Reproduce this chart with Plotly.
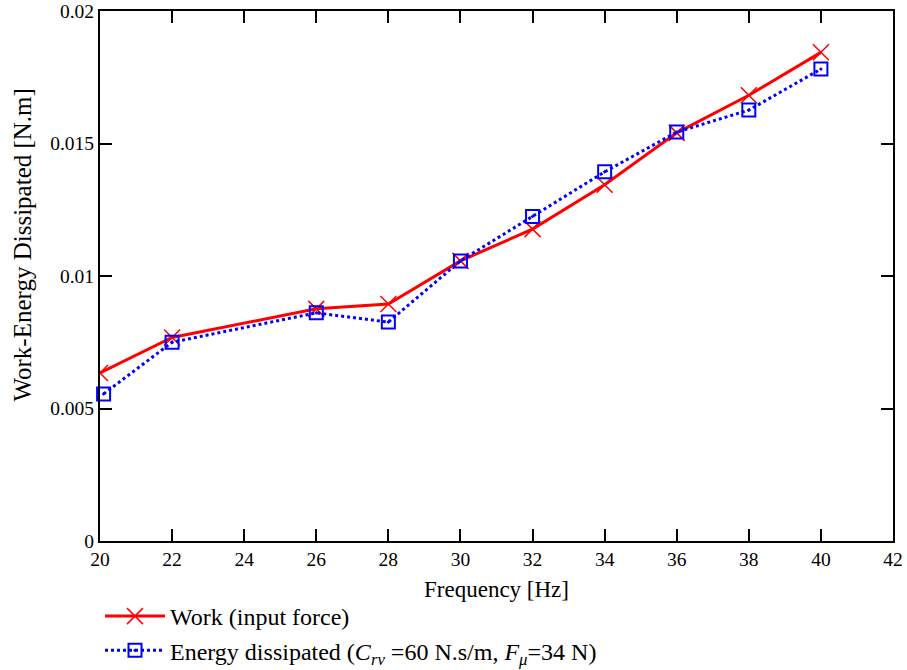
import plotly.graph_objects as go

freq_work = [20, 22, 26, 28, 30, 32, 34, 36, 38, 40]
work = [0.00634, 0.00768, 0.00876, 0.00894, 0.01057, 0.01177, 0.01344, 0.0154, 0.01682, 0.01844]
freq_energy = [20.1, 22, 26, 28, 30, 32, 34, 36, 38, 40]
energy = [0.00555, 0.0075, 0.00861, 0.00826, 0.01057, 0.01225, 0.01393, 0.01543, 0.01626, 0.01781]

x_ticks = [20, 22, 24, 26, 28, 30, 32, 34, 36, 38, 40, 42]
y_ticks = [0, 0.005, 0.01, 0.015, 0.02]
y_tick_text = ["0", "0.005", "0.01", "0.015", "0.02"]

font_family = "Liberation Serif"

fig = go.Figure()
fig.add_trace(go.Scatter(
    x=freq_work, y=work, mode="lines+markers",
    name="Work (input force)",
    line=dict(color="#ff0000", width=3),
    marker=dict(symbol="x-thin-open", size=16, line=dict(color="#ff0000", width=1.5)),
    cliponaxis=True,
))
fig.add_trace(go.Scatter(
    x=freq_energy, y=energy, mode="lines+markers",
    name="Energy dissipated (<i>C<sub>rv</sub></i> =60 N.s/m, <i>F<sub>μ</sub></i>=34 N)",
    line=dict(color="#0000ff", width=3, dash="dot"),
    marker=dict(symbol="square-open-dot", size=13, color="#0000ff", line=dict(color="#0000ff", width=2)),
    cliponaxis=False,
))

axis_common = dict(
    showgrid=False, zeroline=False, showline=True, linecolor="black", linewidth=2,
    mirror="ticks", ticks="inside", ticklen=12, tickwidth=1.5, tickcolor="black",
    tickfont=dict(family=font_family, size=19.5, color="black"),
)

fig.update_layout(
    width=907, height=670,
    margin=dict(l=100, r=14, t=11, b=129, autoexpand=False),
    paper_bgcolor="white", plot_bgcolor="white",
    font=dict(family=font_family, size=19, color="black"),
    xaxis=dict(range=[20, 42], tickvals=x_ticks, title=dict(text="Frequency [Hz]", font=dict(size=23), standoff=11), **axis_common),
    yaxis=dict(range=[0, 0.02], tickvals=y_ticks, ticktext=y_tick_text, **axis_common),
    annotations=[dict(text="Work-Energy Dissipated [N.m]", textangle=-90, xref="paper", yref="paper",
                      x=-0.098, y=0.558, xanchor="center", yanchor="middle", showarrow=False,
                      font=dict(family=font_family, size=25, color="black"))],
    showlegend=True,
    legend=dict(x=0.0, y=-0.1, xanchor="left", yanchor="top",
                font=dict(family=font_family, size=24, color="black"), bgcolor="rgba(0,0,0,0)",
                itemwidth=60, tracegroupgap=0),
)

fig.write_html("out.html")
